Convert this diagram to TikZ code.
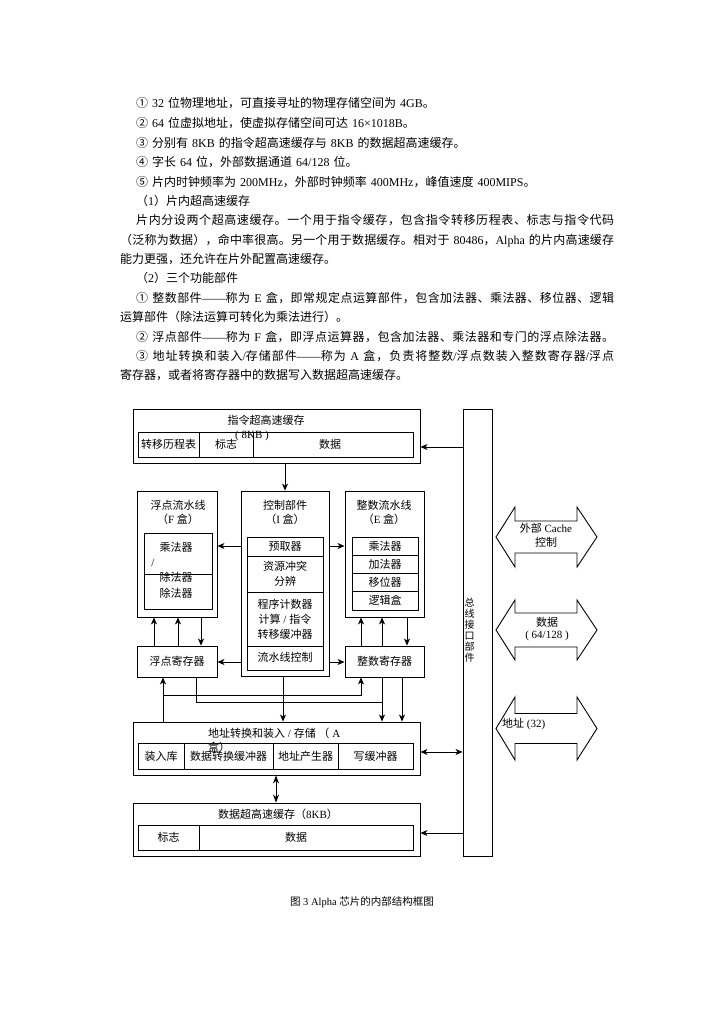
\documentclass[tikz,border=0pt]{standalone}
\usepackage{fontspec}
\setmainfont{Liberation Serif}
\newfontfamily\cjkf{Noto Sans CJK SC}
\newfontfamily\latf{Liberation Serif}
\usetikzlibrary{arrows.meta}
\XeTeXinterchartokenstate=1
\newXeTeXintercharclass\CJKcls
\newcount\cjkcnt
\def\setcjkrange#1#2{\cjkcnt=#1 \loop\ifnum\cjkcnt<#2 \XeTeXcharclass\cjkcnt=\CJKcls \advance\cjkcnt by 1 \repeat}
\setcjkrange{"2460}{"2500}
\setcjkrange{"3000}{"A000}
\setcjkrange{"FF00}{"FFF0}
\XeTeXcharclass"2014=0
\XeTeXcharclass"00D7=0
\XeTeXinterchartoks 0 \CJKcls = {\cjkf}
\XeTeXinterchartoks 4095 \CJKcls = {\cjkf}
\XeTeXinterchartoks \CJKcls 0 = {\latf}
\XeTeXinterchartoks \CJKcls 4095 = {\latf}
\XeTeXinterchartoks \CJKcls \CJKcls = {\hskip 0pt plus 3pt\relax}
\newcommand\widesp{\spaceskip 4pt plus 1pt minus 1pt\relax}
\newcommand\rbox[6][]{\node[box,#1,minimum width={(#5-#3)*1pt},minimum height={(#6-#4)*1pt}] (#2) at ({(#3+#5)/2},{(#4+#6)/2}) {};}
\newcommand\blockarr[4]{\draw[ln] (496,#2) -- (515,#2-#3) -- (515,#2-#4) -- (577,#2-#4) -- (577,#2-#3) -- (597,#2) -- (577,#2+#3) -- (577,#2+#4) -- (515,#2+#4) -- (515,#2+#3) -- cycle;}
\begin{document}
\begin{tikzpicture}[x=1pt,y=-1pt,
  box/.style={draw, line width=0.9pt, inner sep=0pt},
  ln/.style={line width=0.9pt},
  dl/.style={font=\fontsize{11}{13}\selectfont, inner sep=0pt, text height=9.5pt, text depth=1.5pt},
  txt/.style={font=\fontsize{12}{14}\selectfont, execute at begin node=\widesp, anchor=base west, inner sep=0pt},
  ar/.style={ln, -{Stealth[length=7pt,width=6pt,inset=2pt]}},
  dar/.style={ln, {Stealth[length=7pt,width=6pt,inset=2pt]}-{Stealth[length=7pt,width=6pt,inset=2pt]}},
  sdar/.style={ln, {Stealth[length=8pt,width=6pt,inset=2.5pt]}-{Stealth[length=8pt,width=6pt,inset=2.5pt]}}]
\fill[white] (0,0) rectangle (724,1024);
\useasboundingbox (0,0) rectangle (724,1024);
% ---------- text ----------
\node[txt] (t1) at (136,107.5) {① 32 位物理地址，可直接寻址的物理存储空间为 4GB。};
\node[txt] (t2) at (136,127.5) {② 64 位虚拟地址，使虚拟存储空间可达 16×1018B。};
\node[txt] (t3) at (136,147.5) {③ 分别有 8KB 的指令超高速缓存与 8KB 的数据超高速缓存。};
\node[txt] (t4) at (136,167) {④ 字长 64 位，外部数据通道 64/128 位。};
\node[txt] (t5) at (136,186.5) {⑤ 片内时钟频率为 200MHz，外部时钟频率 400MHz，峰值速度 400MIPS。};
\node[txt] (t6) at (136,205.5) {（1）片内超高速缓存};
\node[txt] (t7) at (136,224.5) {\hbox to 478pt{片内分设两个超高速缓存。一个用于指令缓存，包含指令转移历程表、标志与指令代码}};
\node[txt] (t8) at (120,244) {\hbox to 494pt{（泛称为数据），命中率很高。另一个用于数据缓存。相对于 80486，Alpha 的片内高速缓存}};
\node[txt] (t9) at (120,263.5) {能力更强，还允许在片外配置高速缓存。};
\node[txt] (t10) at (136,282.5) {（2）三个功能部件};
\node[txt] (t11) at (136,302) {\hbox to 478pt{① 整数部件——称为 E 盒，即常规定点运算部件，包含加法器、乘法器、移位器、逻辑}};
\node[txt] (t12) at (120,321.5) {运算部件（除法运算可转化为乘法进行）。};
\node[txt] (t13) at (136,341) {\hbox to 478pt{② 浮点部件——称为 F 盒，即浮点运算器，包含加法器、乘法器和专门的浮点除法器。}};
\node[txt] (t14) at (136,360.5) {\hbox to 478pt{③ 地址转换和装入/存储部件——称为 A 盒，负责将整数/浮点数装入整数寄存器/浮点}};
\node[txt] (t15) at (120,379.5) {寄存器，或者将寄存器中的数据写入数据超高速缓存。};
% ---------- coordinates ----------
\foreach \v in {154,163,178,196,201,276,283,285,361,382,402,407} {\coordinate (v\v) at (\v,0);}
\foreach \h in {447,546,662,695,702,752,833} {\coordinate (h\h) at (0,\h);}
% ---------- instruction cache ----------
\rbox{icache}{133}{409}{420}{463}
\rbox{ic1}{138}{432}{199}{457}
\rbox{ic2}{199}{432}{253}{457}
\rbox{ic3}{253}{432}{413}{457}
\node[dl] (ict) at (266,420) {指令超高速缓存};
\node[dl] (ict2) at (252,434) {( 8KB )};
\node[dl] (ic1t) at (ic1) {转移历程表};
\node[dl] (ic2t) at (ic2) {标志};
\node[dl] (ic3t) at (330,444.5) {数据};
% ---------- F box ----------
\rbox{fbox}{137}{491}{217}{617}
\rbox{fin}{144}{533}{212}{609}
\draw[ln] (144,574) -- (212,574);
\node[dl] (ft1) at (178,505) {浮点流水线};
\node[dl] (ft2) at (178,519) {（F 盒）};
\node[dl] (ft3) at (176,547) {乘法器};
\node[dl] (ft4) at (153,562) {/};
\node[dl] (ft5) at (176,577) {除法器};
\node[dl] (ft6) at (176,593) {除法器};
% ---------- I box ----------
\rbox{ibox}{241}{491}{329}{676}
\rbox{i1}{247}{537}{323}{556}
\rbox{i2}{247}{556}{323}{592}
\rbox{i3}{247}{592}{323}{646}
\rbox{i4}{247}{646}{323}{670}
\node[dl] (it1) at (285,505) {控制部件};
\node[dl] (it2) at (285,519) {（I 盒）};
\node[dl] (it3) at (285,546) {预取器};
\node[dl] (it4) at (285,566) {资源冲突};
\node[dl] (it5) at (285,581) {分辨};
\node[dl] (it6) at (285,604) {程序计数器};
\node[dl] (it7) at (285,619) {计算 / 指令};
\node[dl] (it8) at (285,634) {转移缓冲器};
\node[dl] (it9) at (285,657) {流水线控制};
% ---------- E box ----------
\rbox{ebox}{345}{491}{424}{617}
\rbox{e1}{352}{537}{418}{555}
\rbox{e2}{352}{555}{418}{573}
\rbox{e3}{352}{573}{418}{591}
\rbox{e4}{352}{591}{418}{610}
\node[dl] (et1) at (384,505) {整数流水线};
\node[dl] (et2) at (384,519) {（E 盒）};
\node[dl] (et3) at (e1) {乘法器};
\node[dl] (et4) at (e2) {加法器};
\node[dl] (et5) at (e3) {移位器};
\node[dl] (et6) at (e4) {逻辑盒};
% ---------- registers ----------
\rbox{freg}{137}{646}{217}{677}
\rbox{ereg}{345}{646}{424}{677}
\node[dl] (frt) at (freg) {浮点寄存器};
\node[dl] (ert) at (ereg) {整数寄存器};
% ---------- A box ----------
\rbox{abox}{133}{722}{420}{775}
\rbox{a1}{138}{743}{184}{769}
\rbox{a2}{184}{743}{273}{769}
\rbox{a3}{273}{743}{338}{769}
\rbox{a4}{338}{743}{413}{769}
\node[dl,anchor=west] (at1) at (208,733) {地址转换和装入 / 存储 （ A};
\node[dl,anchor=west] (at2) at (208,747) {盒）};
\node[dl] (a1t) at (a1) {装入库};
\node[dl] (a2t) at (a2) {数据转换缓冲器};
\node[dl] (a3t) at (a3) {地址产生器};
\node[dl] (a4t) at (a4) {写缓冲器};
% ---------- data cache ----------
\rbox{dcache}{133}{803}{420}{856}
\rbox{d1}{138}{825}{199}{850}
\rbox{d2}{199}{825}{413}{850}
\node[dl] (dt) at (278,814) {数据超高速缓存（8KB）};
\node[dl] (d1t) at (d1) {标志};
\node[dl] (d2t) at (296,837.5) {数据};
% ---------- bus ----------
\rbox{bus}{463}{409}{492}{856}
\node[anchor=north west, font=\fontsize{10}{11}\selectfont, align=left, inner sep=0pt] (bust) at (464.5,598) {总\\线\\接\\口\\部\\件};
% ---------- connectors ----------
\draw[ar] (bus.west |- h447) -- (icache.east |- h447);
\draw[ar] (icache.south -| v285) -- (ibox.north -| v285);
\draw[ar] (ibox.west |- h546) -- (fbox.east |- h546);
\draw[ar] (ibox.east |- h546) -- (ebox.west |- h546);
\draw[ar] (ibox.west |- h662) -- (freg.east |- h662);
\draw[ar] (ibox.east |- h662) -- (ereg.west |- h662);
\draw[ar] (freg.north -| v154) -- (fbox.south -| v154);
\draw[ar] (freg.north -| v178) -- (fbox.south -| v178);
\draw[ar] (fbox.south -| v201) -- (freg.north -| v201);
\draw[ar] (ereg.north -| v361) -- (ebox.south -| v361);
\draw[ar] (ereg.north -| v382) -- (ebox.south -| v382);
\draw[ar] (ebox.south -| v407) -- (ereg.north -| v407);
\draw[ar] (abox.north -| v163) -- (freg.south -| v163);
\draw[ar] (v163 |- h695) -- (v361 |- h695) -- (ereg.south -| v361);
\draw[ln] (freg.south -| v196) -- (v196 |- h702) -- (v382 |- h702);
\draw[ar] (ibox.south -| v283) -- (abox.north -| v283);
\draw[ar] (ereg.south -| v382) -- (abox.north -| v382);
\draw[ar] (ereg.south -| v402) -- (abox.north -| v402);
\draw[dar] (abox.east |- h752) -- (bus.west |- h752);
\draw[sdar] (abox.south -| v276) -- (dcache.north -| v276);
\draw[ar] (bus.west |- h833) -- (dcache.east |- h833);
% ---------- block arrows ----------
\blockarr{1}{537}{30}{16}
\blockarr{2}{630}{30}{17}
\blockarr{3}{728.5}{31.5}{15}
\node[dl] (b1t) at (546,528) {外部 Cache};
\node[dl] (b1u) at (546,542) {控制};
\node[dl] (b2t) at (547,622) {数据};
\node[dl] (b2u) at (547,634) {( 64/128 )};
\node[dl,anchor=west] (b3t) at (502,723) {地址 (32)};
% ---------- caption ----------
\node[font=\fontsize{10.5}{12}\selectfont, inner sep=0pt] (cap) at (362,902) {图 3 Alpha 芯片的内部结构框图};
\end{tikzpicture}
\end{document}
